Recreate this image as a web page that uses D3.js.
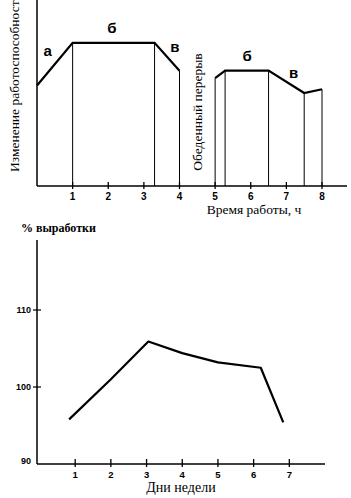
<!DOCTYPE html>
<html>
<head>
<meta charset="utf-8">
<script src="https://cdn.jsdelivr.net/npm/d3@7"></script>
<style>
  body { margin: 0; background: #fff; }
  svg { display: block; }
</style>
</head>
<body>
<script>
// top chart: work capacity over the working day (relative units)
const dayPart1 = [[0, 54], [1, 77], [3.3, 77], [4, 62]]
const dayPart2 = [[5, 58], [5.28, 62], [6.5, 62], [7.5, 50], [8, 52]]
const hourTicks = [1, 2, 3, 4, 5, 6, 7, 8]
const phaseLabels = [
  {t: 0.3, v: 70, text: 'а'}, {t: 2.1, v: 82, text: 'б'}, {t: 3.87, v: 72, text: 'в'},
  {t: 5.9, v: 67, text: 'б'}, {t: 7.2, v: 58, text: 'в'}
]

// bottom chart: output by day of week, %
const weekDays = [0.83, 2, 3.05, 4, 5, 6.2, 6.83]
const weekOutput = [95.8, 101, 105.9, 104.4, 103.2, 102.5, 95.4]
const dayTicks = [1, 2, 3, 4, 5, 6, 7]
const pctTicks = [110, 100, 90]

const W = 351, H = 498
const svg = d3.select('body').append('svg')
    .attr('width', W)
    .attr('height', H)

const serif = '"Liberation Serif", "DejaVu Serif", serif'
const sans = '"Liberation Sans", Arial, sans-serif'

// ---------- top chart ----------
const x1 = d3.scaleLinear().domain([0, 8]).range([37, 322])
const y1 = d3.scaleLinear().domain([0, 100]).range([186, 0])

const g1 = svg.append('g')

g1.append('line')
    .attr('x1', x1(0)).attr('x2', x1(0))
    .attr('y1', 0).attr('y2', y1(0))
    .attr('stroke', '#000').attr('stroke-width', 1.5)

g1.append('line')
    .attr('x1', x1(0)).attr('x2', 347)
    .attr('y1', y1(0)).attr('y2', y1(0))
    .attr('stroke', '#000').attr('stroke-width', 1.5)

g1.selectAll('.tick')
    .data(hourTicks)
    .join('line')
    .attr('x1', d => x1(d)).attr('x2', d => x1(d))
    .attr('y1', y1(0) - 4).attr('y2', y1(0) + 3)
    .attr('stroke', '#000').attr('stroke-width', 1.3)

g1.selectAll('.ticklabel')
    .data(hourTicks)
    .join('text')
    .attr('x', d => x1(d)).attr('y', 200)
    .attr('text-anchor', 'middle')
    .style('font', `bold 10px ${sans}`)
    .text(d => d)

const line1 = d3.line().x(d => x1(d[0])).y(d => y1(d[1]))

for (const part of [dayPart1, dayPart2]) {
  g1.append('path')
      .datum(part)
      .attr('d', line1)
      .attr('fill', 'none')
      .attr('stroke', '#000')
      .attr('stroke-width', 2.2)
  g1.selectAll(null)
      .data(part.filter(d => d[0] > 0))
      .join('line')
      .attr('x1', d => x1(d[0])).attr('x2', d => x1(d[0]))
      .attr('y1', d => y1(d[1])).attr('y2', y1(0))
      .attr('stroke', '#000').attr('stroke-width', 1)
}

g1.selectAll('.phase')
    .data(phaseLabels)
    .join('text')
    .attr('x', d => x1(d.t)).attr('y', d => y1(d.v))
    .attr('text-anchor', 'middle')
    .style('font', `bold 15px ${sans}`)
    .text(d => d.text)

g1.append('text')
    .attr('transform', 'translate(202,112) rotate(-90)')
    .attr('text-anchor', 'middle')
    .style('font', `13.5px ${serif}`)
    .text('Обеденный перерыв')

g1.append('text')
    .attr('transform', 'translate(19,172) rotate(-90)')
    .style('font', `13.5px ${serif}`)
    .text('Изменение работоспособности')

g1.append('text')
    .attr('x', 254).attr('y', 214)
    .attr('text-anchor', 'middle')
    .style('font', `13.5px ${serif}`)
    .text('Время работы, ч')

// ---------- bottom chart ----------
const x2 = d3.scaleLinear().domain([0, 8]).range([39.5, 325])
const y2 = d3.scaleLinear().domain([90, 110]).range([464, 310])

const g2 = svg.append('g')

g2.append('line')
    .attr('x1', 37).attr('x2', 37)
    .attr('y1', 240).attr('y2', y2(90))
    .attr('stroke', '#000').attr('stroke-width', 1.5)

g2.append('line')
    .attr('x1', 37).attr('x2', 325)
    .attr('y1', y2(90)).attr('y2', y2(90))
    .attr('stroke', '#000').attr('stroke-width', 1.5)

g2.selectAll('.ytick')
    .data(pctTicks.filter(d => d > 90))
    .join('line')
    .attr('x1', 33).attr('x2', 41)
    .attr('y1', d => y2(d)).attr('y2', d => y2(d))
    .attr('stroke', '#000').attr('stroke-width', 1.2)

g2.selectAll('.ylabel')
    .data(pctTicks)
    .join('text')
    .attr('x', 31).attr('y', d => y2(d) + (d === 90 ? 0 : 3))
    .attr('text-anchor', 'end')
    .style('font', `bold 9px ${sans}`)
    .text(d => d)

g2.selectAll('.xtick')
    .data(dayTicks)
    .join('line')
    .attr('x1', d => x2(d)).attr('x2', d => x2(d))
    .attr('y1', y2(90) - 5).attr('y2', y2(90) + 3)
    .attr('stroke', '#000').attr('stroke-width', 1.3)

g2.selectAll('.xlabel')
    .data(dayTicks)
    .join('text')
    .attr('x', d => x2(d)).attr('y', 478)
    .attr('text-anchor', 'middle')
    .style('font', `bold 9.5px ${sans}`)
    .text(d => d)

const line2 = d3.line().x(d => x2(d[0])).y(d => y2(d[1]))

g2.append('path')
    .datum(d3.zip(weekDays, weekOutput))
    .attr('d', line2)
    .attr('fill', 'none')
    .attr('stroke', '#000')
    .attr('stroke-width', 2.2)
    .attr('stroke-linejoin', 'round')

g2.append('text')
    .attr('x', 21).attr('y', 232)
    .style('font', `bold 12px ${serif}`)
    .text('% выработки')

g2.append('text')
    .attr('x', 181).attr('y', 492)
    .attr('text-anchor', 'middle')
    .style('font', `14px ${serif}`)
    .text('Дни недели')
</script>
</body>
</html>
